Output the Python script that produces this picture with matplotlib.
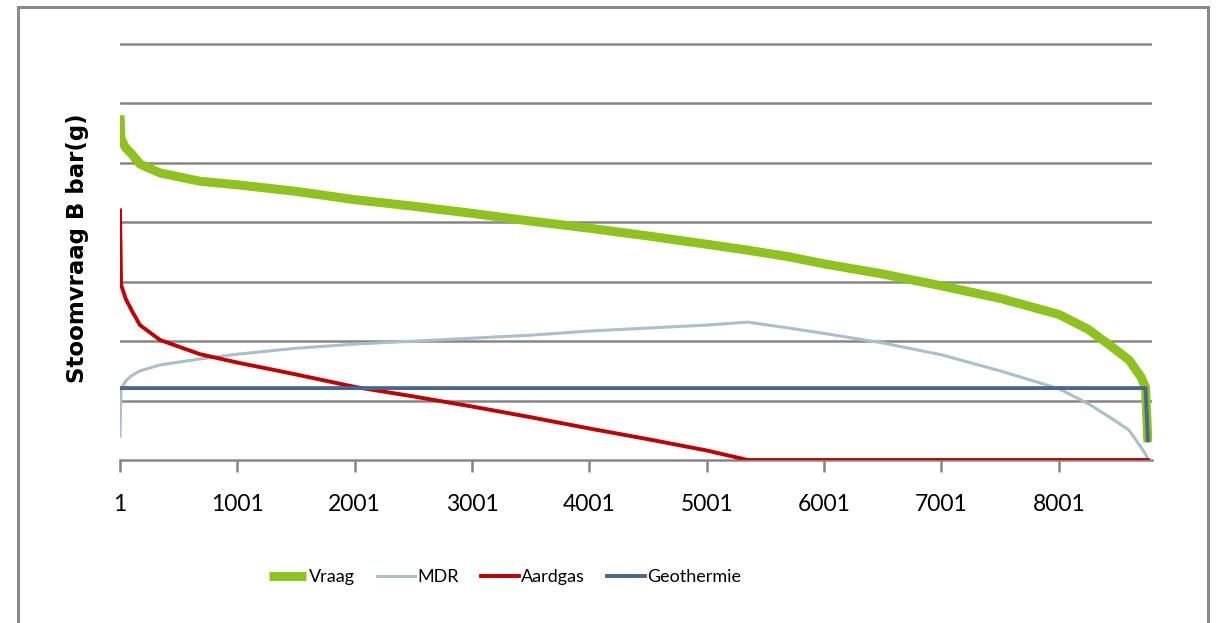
import matplotlib
matplotlib.use("Agg")
import matplotlib.pyplot as plt
from matplotlib.lines import Line2D

# hours of the year (sorted load duration) and steam demand per source
hours = [1, 10, 50, 100, 171, 342, 683, 1001, 1500, 2001, 2500, 3001, 3500,
         4001, 4500, 5001, 5351, 5700, 6001, 6500, 7001, 7500, 8001, 8250, 8450,
         8600, 8700, 8740, 8760]
vraag = [5.8, 5.4, 5.25, 5.15, 4.98, 4.83, 4.69, 4.63, 4.52, 4.38, 4.27,
         4.15, 4.02, 3.9, 3.77, 3.63, 3.53, 3.42, 3.3, 3.13, 2.93, 2.72, 2.45,
         2.2, 1.91, 1.68, 1.4, 1.22, 0.3]
mdr = [0.4, 1.2, 1.33, 1.42, 1.5, 1.6, 1.7, 1.78, 1.88, 1.95, 2.0, 2.05, 2.1,
       2.17, 2.22, 2.27, 2.32, 2.22, 2.13, 1.97, 1.77, 1.5, 1.2, 0.95, 0.7,
       0.5, 0.22, 0.1, 0.0]
aardgas = [4.2, 2.95, 2.71, 2.52, 2.27, 2.02, 1.78, 1.64, 1.44, 1.23, 1.07,
           0.9, 0.72, 0.53, 0.35, 0.16, 0.0, 0.0, 0.0, 0.0, 0.0, 0.0, 0.0, 0.0,
           0.0, 0.0, 0.0, 0.0, 0.0]
geothermie = [1.21] * 28 + [0.33]

xticks = [1, 1001, 2001, 3001, 4001, 5001, 6001, 7001, 8001]

grid_col = "#868686"

fig = plt.figure(figsize=(12.2, 6.23), dpi=100)
ax = fig.add_axes([120 / 1220, (623 - 460) / 623, (1152 - 120) / 1220, 419 / 623])

ax.plot(hours, vraag, color="#8dc21f", lw=6.5, solid_capstyle="butt", label="Vraag", zorder=3)
ax.plot(hours, mdr, color="#a9c0cb", lw=2.2, label="MDR", zorder=3)
ax.plot(hours, aardgas, color="#c00000", lw=2.8, label="Aardgas", zorder=3)
ax.plot(hours, geothermie, color="#4a6690", lw=2.8, label="Geothermie", zorder=3)

ax.set_xlim(1, 8795)
ax.set_ylim(0, 7.05)
ax.set_yticks(range(1, 8))
ax.yaxis.grid(True, color=grid_col, lw=1.8)
ax.set_axisbelow(True)
ax.tick_params(axis="y", length=0, labelleft=False)

for s in ["left", "right", "top"]:
    ax.spines[s].set_visible(False)
ax.spines["bottom"].set_color(grid_col)
ax.spines["bottom"].set_linewidth(1.8)

ax.set_xticks(xticks)
ax.set_xticklabels([str(t) for t in xticks], fontfamily="Lato", fontsize=16.5)
ax.tick_params(axis="x", direction="out", length=8.5, width=1.8, color=grid_col, pad=16)

fig.text(78 / 1220, 1 - 248 / 623, "Stoomvraag B bar(g)", rotation=90, ha="center",
         va="center", fontsize=16.5, fontweight="bold", family="DejaVu Sans")

fig.legend(loc="center", bbox_to_anchor=(505 / 1220, 1 - 577 / 623), ncol=4,
           frameon=False, prop={"family": "Lato", "size": 13}, handlelength=2.1,
           handletextpad=0.15, columnspacing=1.2)

# outer chart frame
for xs, ys in [([18, 18], [0, 616.5]), ([18, 1208], [616.5, 616.5]), ([1208, 1208], [0, 616.5])]:
    fig.add_artist(Line2D([x / 1220 for x in xs], [y / 623 for y in ys],
                          color="#8a8a8a", lw=2.2))

fig.savefig("out.png", dpi=100)
